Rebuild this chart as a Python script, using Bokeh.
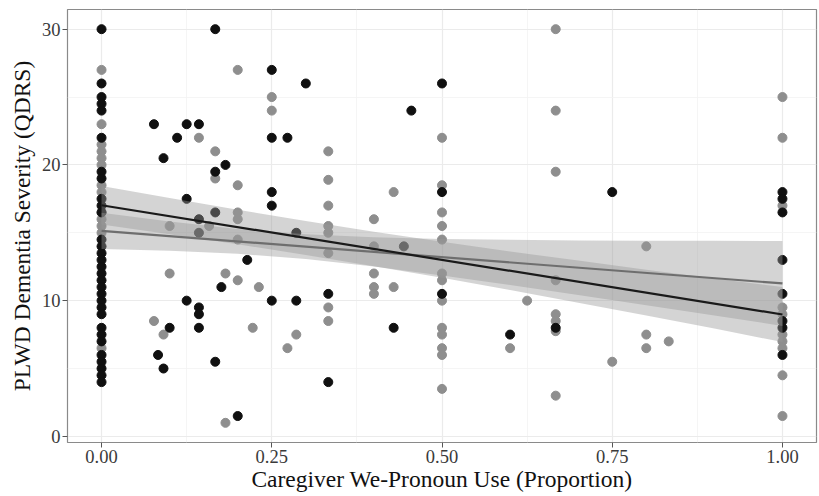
from bokeh.plotting import figure
from bokeh.models import Range1d, FixedTicker
from bokeh.embed import file_html
from bokeh.resources import INLINE

# ---------------- data ----------------
black_x = [0]*31 + [
    0.077, 0.125, 0.143, 0.111, 0.167, 0.091, 0.182, 0.167, 0.125, 0.167,
    0.143, 0.143, 0.25, 0.3, 0.25, 0.273, 0.455, 0.25, 0.25, 0.286,
    0.214, 0.176, 0.125, 0.143, 0.143, 0.143, 0.1, 0.083, 0.091, 0.167,
    0.2, 0.25, 0.286, 0.333, 0.333, 0.429, 0.444, 0.5, 0.5, 0.5,
    0.6, 0.667, 0.75, 1, 1, 1, 1, 1, 1, 1, 1]
black_y = [30, 26, 25, 24.5, 24, 22, 19.5, 19, 17.5, 17, 14.5, 14, 13.5, 13, 12.5,
           12, 11.5, 11, 10.5, 10, 9.5, 9, 8, 7.5, 7, 6, 5.5, 5, 4.5, 4, 16.5] + [
    23, 23, 23, 22, 30, 20.5, 20, 19.5, 17.5, 16.5,
    16, 15, 27, 26, 22, 22, 24, 18, 17, 15,
    13, 11, 10, 9.5, 9, 8, 8, 6, 5, 5.5,
    1.5, 10, 10, 10.5, 4, 8, 14, 26, 18, 10.5,
    7.5, 8, 18, 18, 17.5, 16.5, 13, 10.5, 8.5, 8, 6]

gray_x = [0]*13 + [
    0.2, 0.143, 0.167, 0.167, 0.2, 0.2, 0.2, 0.1, 0.158, 0.2,
    0.1, 0.182, 0.2, 0.231, 0.077, 0.091, 0.222, 0.182, 0.25, 0.25,
    0.333, 0.333, 0.429, 0.333, 0.4, 0.333, 0.333, 0.333, 0.4, 0.4,
    0.4, 0.4, 0.429, 0.333, 0.333, 0.286, 0.273, 0.5, 0.5, 0.5,
    0.5, 0.5, 0.5, 0.5, 0.5, 0.5, 0.5, 0.5, 0.5, 0.5,
    0.625, 0.6, 0.667, 0.667, 0.667, 0.667, 0.667, 0.667, 0.667, 0.667,
    0.75, 0.8, 0.8, 0.8, 0.833, 1, 1, 1, 1, 1,
    1, 1, 1, 1, 1]
gray_y = [27, 23, 21.5, 21, 20.5, 20, 18.5, 18, 16.5, 16, 15.5, 15, 6.5] + [
    27, 22, 21, 19, 18.5, 16.5, 16, 15.5, 15.5, 14.5,
    12, 12, 11.5, 11, 8.5, 7.5, 8, 1, 25, 24,
    21, 18.9, 18, 17, 16, 15.5, 15, 13.5, 14, 12,
    11, 10.5, 11, 9.5, 8.5, 7.5, 6.5, 22, 18.5, 16.5,
    15.5, 14.5, 12, 11.5, 10, 8, 7.5, 6.5, 6, 3.5,
    10, 6.5, 30, 24, 19.5, 11.5, 9, 8.5, 7.75, 3,
    5.5, 14, 7.5, 6.5, 7, 25, 22, 17, 9.5, 9,
    7.5, 7, 6.5, 4.5, 1.5]

# fitted lines and confidence bands
fit_x = [0, 1]
black_fit = [17.03, 8.98]
gray_fit = [15.14, 11.27]

band_x = [0, 0.1, 0.2, 0.3, 0.4, 0.5, 0.6, 0.7, 0.8, 0.9, 1.0]
black_lo = [15.61, 14.90, 14.15, 13.37, 12.54, 11.68, 10.78, 9.85, 8.90, 7.94, 6.95]
black_hi = [18.45, 17.56, 16.69, 15.86, 15.08, 14.34, 13.62, 12.95, 12.28, 11.64, 11.01]
gray_lo = [13.80, 13.68, 13.45, 13.06, 12.52, 11.86, 11.16, 10.42, 9.67, 8.91, 8.14]
gray_hi = [16.48, 15.83, 15.28, 14.90, 14.67, 14.55, 14.48, 14.44, 14.42, 14.41, 14.40]

x_ticks = [0, 0.25, 0.5, 0.75, 1]
x_tick_labels = ["0.00", "0.25", "0.50", "0.75", "1.00"]
x_minor = [0.125, 0.375, 0.625, 0.875]
y_ticks = [0, 10, 20, 30]
y_minor = [5, 15, 25]

x_title = "Caregiver We-Pronoun Use (Proportion)"
y_title = "PLWD Dementia Severity (QDRS)"

# ---------------- figure ----------------
FONT = "Liberation Serif"

p = figure(width=818, height=494, output_backend="svg", toolbar_location=None,
           x_range=Range1d(-0.05, 1.05), y_range=Range1d(-0.45, 31.45),
           min_border_left=67, min_border_right=2, min_border_top=9,
           min_border_bottom=50)
p.background_fill_color = "white"
p.border_fill_color = "white"
p.outline_line_color = "#8a8a8a"
p.outline_line_width = 1.2

p.xaxis.ticker = FixedTicker(ticks=x_ticks, minor_ticks=x_minor)
p.yaxis.ticker = FixedTicker(ticks=y_ticks, minor_ticks=y_minor)
p.xaxis.major_label_overrides = {t: l for t, l in zip(x_ticks, x_tick_labels)}

p.axis.axis_line_color = None
p.axis.major_tick_line_color = "#555555"
p.axis.major_tick_out = 5
p.axis.major_tick_in = 0
p.axis.minor_tick_line_color = None
p.axis.major_label_text_font = FONT
p.axis.major_label_text_font_size = "18.5px"
p.axis.major_label_text_color = "#3a3a3a"
p.axis.major_label_standoff = 2
p.axis.axis_label_text_font = FONT
p.axis.axis_label_text_font_size = "23.5px"
p.axis.axis_label_text_font_style = "normal"
p.axis.axis_label_text_color = "#111111"
p.xaxis.axis_label = x_title
p.yaxis.axis_label = y_title
p.xaxis.axis_label_standoff = 0
p.yaxis.axis_label_standoff = 4

p.grid.grid_line_color = "#ebebeb"
p.grid.grid_line_width = 1.2
p.grid.minor_grid_line_color = "#f3f3f3"
p.grid.minor_grid_line_width = 0.8

# points (drawn first; bands cover them as in the reference)
p.scatter(gray_x, gray_y, size=9, fill_color="#8e8e8e", line_color="#8e8e8e")
p.scatter(black_x, black_y, size=9, fill_color="#101010", line_color="#101010")

# confidence bands
p.varea(x=band_x, y1=gray_lo, y2=gray_hi, fill_color="#999999", fill_alpha=0.42)
p.varea(x=band_x, y1=black_lo, y2=black_hi, fill_color="#999999", fill_alpha=0.42)

# fitted lines
p.line(fit_x, gray_fit, line_color="#6e6e6e", line_width=2.2)
p.line(fit_x, black_fit, line_color="#1a1a1a", line_width=2.2)

open("out.html", "w").write(file_html(p, INLINE))
